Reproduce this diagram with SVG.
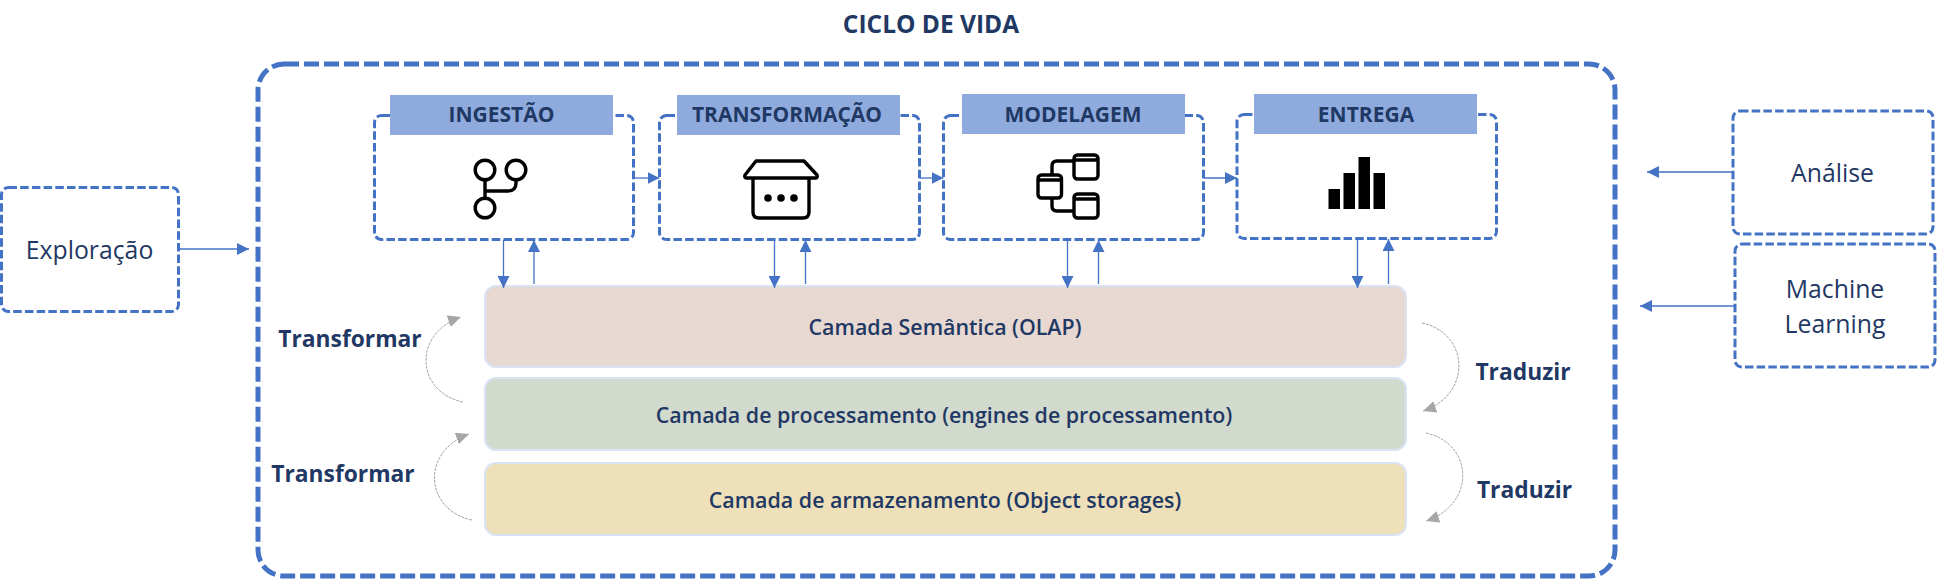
<svg xmlns="http://www.w3.org/2000/svg" width="1937" height="579" viewBox="0 0 1937 579">
<style>
text{font-family:"Open Sans","Noto Sans","Liberation Sans",sans-serif;fill:#1f3864;text-anchor:middle}
.h{font-size:21px;font-weight:700}
.l{font-size:21.4px;font-weight:600}
.t{font-size:22.8px;font-weight:700}
.n{font-size:24.8px}
.box{fill:#fff;stroke:#4472c4;stroke-width:3;stroke-dasharray:8.500 3.200}
.hd{fill:#8faadc}
.lay{stroke:#dae3f3;stroke-width:2}
.ln{fill:none;stroke:#4472c4;stroke-width:1.3}
.gr{fill:none;stroke:#a6a6a6;stroke-width:1;stroke-dasharray:3 1}
.ic{fill:none;stroke:#000;stroke-width:3.4;stroke-linejoin:round}
</style>
<defs>
<marker id="a" markerUnits="userSpaceOnUse" markerWidth="13" markerHeight="12" refX="12" refY="6" orient="auto"><path d="M0 0L12 6L0 12Z" fill="#4472c4"/></marker>
<marker id="g" markerUnits="userSpaceOnUse" markerWidth="14" markerHeight="12" refX="13" refY="6" orient="auto"><path d="M0 0L13 6L0 12Z" fill="#a6a6a6"/></marker>
</defs>
<text x="931" y="33" style="font-size:24.500px;font-weight:700">CICLO DE VIDA</text>
<g id="ciclo"><rect x="258" y="64" width="1357" height="512" rx="26" fill="#fff" stroke="#4472c4" stroke-width="5" stroke-dasharray="15 5"/></g>
<g id="exploracao"><rect class="box" x="1.500" y="187.500" width="177" height="124" rx="7"/><text class="n" x="89.500" y="258.500">Exploração</text></g>
<g id="analise"><rect class="box" x="1733" y="111" width="200" height="123" rx="7"/><text class="n" x="1832.500" y="182">Análise</text></g>
<g id="ml"><rect class="box" x="1735" y="244" width="200" height="123" rx="7"/><text class="n" x="1835" y="298">Machine</text><text class="n" x="1835" y="332.500">Learning</text></g>
<g id="ingestao"><rect class="box" x="374.500" y="115.500" width="259" height="124" rx="7"/><rect class="hd" x="390" y="95" width="223" height="40"/><text class="h" x="501.500" y="122">INGESTÃO</text>
<g class="ic"><circle cx="485" cy="170" r="9.800"/><circle cx="516" cy="170" r="9.800"/><circle cx="485" cy="208" r="9.800"/><path d="M485 180V198M516 180V183Q516 191 508 191H485"/></g></g>
<g id="transformacao"><rect class="box" x="659.500" y="115.500" width="260" height="124" rx="7"/><rect class="hd" x="677" y="95" width="223" height="40"/><text class="h" x="787" y="122">TRANSFORMAÇÃO</text>
<g class="ic"><path d="M756 161H804L817 175Q818 178 815 178H747Q744 178 745 175ZM753 178V212Q753 218 759 218H803Q809 218 809 212V178"/></g><circle cx="768" cy="198" r="3.800"/><circle cx="781" cy="198" r="3.800"/><circle cx="794" cy="198" r="3.800"/></g>
<g id="modelagem"><rect class="box" x="943.500" y="115.500" width="260" height="124" rx="7"/><rect class="hd" x="962" y="94" width="223" height="40"/><text class="h" x="1073" y="121.500">MODELAGEM</text>
<g class="ic" stroke-width="2.800"><rect x="1074" y="155" width="24" height="24" rx="3.500"/><rect x="1038" y="175" width="23.500" height="23" rx="3.500"/><rect x="1074" y="194" width="24" height="24" rx="3.500"/><path d="M1074 161H1057Q1052 161 1052 166V175M1052 198V206Q1052 211 1057 211H1074M1074 160H1098M1038 180H1061.500M1074 199H1098"/></g></g>
<g id="entrega"><rect class="box" x="1237" y="114.500" width="259.500" height="124" rx="7"/><rect class="hd" x="1254" y="94" width="223" height="40"/><text class="h" x="1366" y="121.500">ENTREGA</text>
<path d="M1328.500 189h11.500v20h-11.500zM1343.500 173h11.500v36h-11.500zM1358.500 157h11.500v52h-11.500zM1373.500 173h11.500v36h-11.500z"/></g>
<g id="semantica"><rect class="lay" x="485" y="286" width="921" height="81" rx="11" fill="#e7d9d1"/><text class="l" x="945" y="335">Camada Semântica (OLAP)</text></g>
<g id="processamento"><rect class="lay" x="485" y="378" width="921" height="72" rx="11" fill="#d2d9cd"/><text class="l" x="944" y="422.500">Camada de processamento (engines de processamento)</text></g>
<g id="armazenamento"><rect class="lay" x="485" y="463" width="921" height="72" rx="11" fill="#eee0b8"/><text class="l" x="945" y="507.500">Camada de armazenamento (Object storages)</text></g>
<g id="rotulos"><text class="t" x="350" y="346.500">Transformar</text><text class="t" x="343" y="481.500">Transformar</text><text class="t" x="1523" y="380">Traduzir</text><text class="t" x="1524.500" y="498">Traduzir</text></g>
<g id="conectores">
<path class="ln" marker-end="url(#a)" d="M179 249H249"/>
<path class="ln" marker-end="url(#a)" d="M1733 172H1647"/>
<path class="ln" marker-end="url(#a)" d="M1735 306H1640"/>
<path class="ln" marker-end="url(#a)" d="M634 178H659.500"/>
<path class="ln" marker-end="url(#a)" d="M919.500 178H943.500"/>
<path class="ln" marker-end="url(#a)" d="M1203.500 178H1237"/>
<path class="ln" marker-end="url(#a)" d="M503.500 240V288"/>
<path class="ln" marker-end="url(#a)" d="M534 284V240"/>
<path class="ln" marker-end="url(#a)" d="M774.500 240V288"/>
<path class="ln" marker-end="url(#a)" d="M805.500 284V240"/>
<path class="ln" marker-end="url(#a)" d="M1067.500 240V288"/>
<path class="ln" marker-end="url(#a)" d="M1098.500 284V240"/>
<path class="ln" marker-end="url(#a)" d="M1357.500 239V288"/>
<path class="ln" marker-end="url(#a)" d="M1388.500 284V239"/>
<path class="gr" marker-end="url(#g)" d="M463 402C416 392 412 334 461 317"/>
<path class="gr" marker-end="url(#g)" d="M472 520C425 510 420 452 469 434"/>
<path class="gr" marker-end="url(#g)" d="M1422 323C1469 333 1473 394 1423 411"/>
<path class="gr" marker-end="url(#g)" d="M1426 433C1473 443 1477 504 1426 521"/>
</g>
</svg>
